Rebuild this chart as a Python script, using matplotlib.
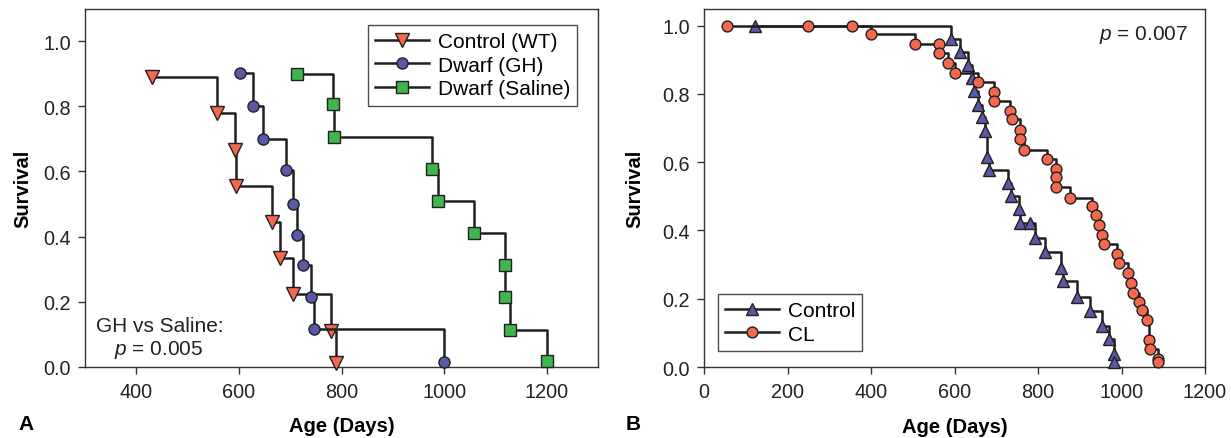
import matplotlib
matplotlib.use("Agg")
import matplotlib.pyplot as plt

plt.rcParams['font.family'] = ['Liberation Sans', 'DejaVu Sans']
plt.rcParams['mathtext.fontset'] = 'custom'
plt.rcParams['mathtext.rm'] = 'Liberation Sans'
plt.rcParams['mathtext.it'] = 'Liberation Sans:italic'

# panel A: dwarf mice
wt_days = [430, 558, 592, 595, 664, 681, 706, 779, 789]
wt_surv = [0.889, 0.778, 0.667, 0.556, 0.444, 0.333, 0.222, 0.111, 0.012]
gh_days = [602, 628, 647, 692, 706, 714, 725, 740, 746, 1000]
gh_surv = [0.901, 0.800, 0.700, 0.604, 0.500, 0.405, 0.314, 0.215, 0.117, 0.015]
sal_days = [713, 783, 785, 976, 988, 1058, 1119, 1119, 1129, 1200]
sal_surv = [0.900, 0.806, 0.706, 0.608, 0.508, 0.411, 0.312, 0.214, 0.114, 0.016]

# panel B: control vs CL
ctl_days = [123, 592, 614, 632, 641, 646, 656, 666, 672, 678, 682, 728, 736,
            754, 758, 782, 794, 816, 855, 860, 893, 925, 953, 969, 981, 983]
ctl_surv = [1.0, 0.962, 0.923, 0.885, 0.846, 0.808, 0.769, 0.731, 0.692, 0.615,
            0.577, 0.538, 0.500, 0.462, 0.423, 0.423, 0.378, 0.337, 0.290, 0.252,
            0.206, 0.164, 0.121, 0.082, 0.038, 0.015]
cl_days = [55, 250, 354, 401, 505, 563, 563, 585, 600, 656, 694, 694, 734, 738,
           758, 758, 766, 822, 844, 844, 844, 877, 929, 940, 945, 953, 959, 990,
           993, 1016, 1023, 1027, 1041, 1050, 1061, 1066, 1069, 1088, 1088]
cl_surv = [1.0, 1.0, 1.0, 0.975, 0.946, 0.946, 0.919, 0.892, 0.862, 0.834, 0.805,
           0.780, 0.751, 0.726, 0.695, 0.668, 0.636, 0.609, 0.581, 0.556, 0.526,
           0.496, 0.471, 0.444, 0.415, 0.387, 0.359, 0.331, 0.305, 0.274, 0.245,
           0.216, 0.191, 0.166, 0.139, 0.078, 0.052, 0.022, 0.015]

RED = '#F4694B'
BLUE = '#5A58A8'
GREEN = '#3FB54B'
LINE = '#231F20'
FRAME = '#333333'
TXT = '#222222'


def km(ax, days, surv, marker, color, label, ms):
    ax.plot(days, surv, drawstyle='steps-post', color=LINE, lw=1.8,
            marker=marker, ms=ms, mfc=color, mec=LINE, mew=1.0,
            label=label, clip_on=False, zorder=3)


def style(ax, ypad):
    for s in ax.spines.values():
        s.set_color(FRAME)
        s.set_linewidth(1.0)
    ax.tick_params(direction='out', length=5, width=1.0, colors=FRAME,
                   labelcolor=TXT, labelsize=14.3)
    ax.tick_params(axis='x', pad=6)
    ax.tick_params(axis='y', pad=5)
    ax.set_ylabel('Survival', fontsize=14.5, fontweight='bold', labelpad=ypad)
    ax.set_xlabel('Age (Days)', fontsize=14.5, fontweight='bold', labelpad=11)
    ax.set_yticks([0, 0.2, 0.4, 0.6, 0.8, 1.0])
    ax.set_yticklabels(['0.0', '0.2', '0.4', '0.6', '0.8', '1.0'])


def legend(ax, loc, anchor):
    leg = ax.legend(loc=loc, bbox_to_anchor=anchor, fontsize=15,
                    frameon=True, fancybox=False, edgecolor=LINE,
                    handlelength=2.6, borderpad=0.35, labelspacing=0.22,
                    handletextpad=0.4, borderaxespad=0.0)
    leg.get_frame().set_linewidth(1.0)
    return leg


fig = plt.figure(figsize=(12.31, 4.39), dpi=100)
axA = fig.add_axes([85 / 1231, 1 - 367.7 / 439, 513 / 1231, 358 / 439])
axB = fig.add_axes([704 / 1231, 1 - 368 / 439, 501 / 1231, 358.4 / 439])

km(axA, wt_days, wt_surv, 'v', RED, 'Control (WT)', 9.5)
km(axA, gh_days, gh_surv, 'o', BLUE, 'Dwarf (GH)', 8)
km(axA, sal_days, sal_surv, 's', GREEN, 'Dwarf (Saline)', 8)
axA.set_xlim(300, 1300)
axA.set_ylim(0, 1.1)
axA.set_xticks([400, 600, 800, 1000, 1200])
style(axA, 8)
legend(axA, 'upper right', (0.96, 0.955))
axA.text(0.146, 0.1006, 'GH vs Saline:', transform=axA.transAxes,
         fontsize=15, ha='center', va='baseline', color=TXT)
axA.text(0.143, 0.0355, '$p$ = 0.005', transform=axA.transAxes,
         fontsize=15, ha='center', va='baseline', color=TXT)

km(axB, ctl_days, ctl_surv, '^', BLUE, 'Control', 8.5)
km(axB, cl_days, cl_surv, 'o', RED, 'CL', 7.8)
axB.set_xlim(0, 1200)
axB.set_ylim(0, 1.05)
axB.set_xticks([0, 200, 400, 600, 800, 1000, 1200])
style(axB, 13)
legend(axB, 'lower left', (0.028, 0.045))
axB.text(0.966, 0.915, '$p$ = 0.007', transform=axB.transAxes,
         fontsize=15, ha='right', va='baseline', color=TXT)

fig.text(18 / 1231, 1 - 425 / 439, 'A', fontsize=15, fontweight='bold',
         ha='left', va='center')
fig.text(626 / 1231, 1 - 425 / 439, 'B', fontsize=15, fontweight='bold',
         ha='left', va='center')

fig.savefig('out.png', dpi=100)
